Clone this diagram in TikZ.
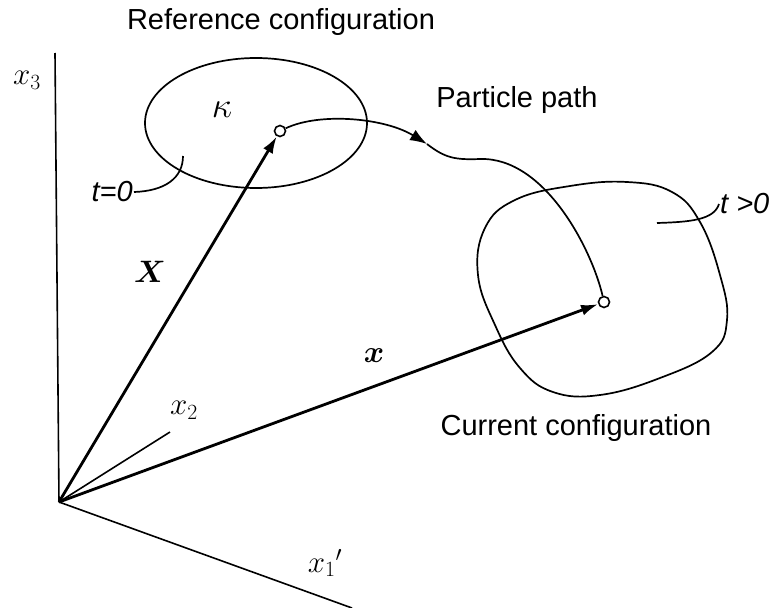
\RequirePackage{fix-cm}
\documentclass[tikz,border=0pt]{standalone}
\usepackage[no-math]{fontspec}
\setmainfont{Liberation Sans}
\usepackage{amsmath}
\usepackage{bm}
\usetikzlibrary{arrows.meta, positioning}

\begin{document}
\begin{tikzpicture}[x=1pt,y=-1pt,
  lbl/.style={font=\fontsize{29}{34}\selectfont,inner sep=1pt},
  mlbl/.style={font=\fontsize{31}{36}\selectfont,inner sep=1pt},
  axis/.style={line width=1.6pt},
  vec/.style={line width=2.8pt,-{Latex[length=17pt,width=11pt]}},
  curve/.style={line width=1.7pt},
  dot/.style={circle,draw,line width=1.6pt,fill=white,inner sep=0pt,minimum size=11pt}]
\useasboundingbox (0,0) rectangle (772,608);
% axes
\coordinate (o) at (59,502);
\coordinate (a3) at (55,53);
\coordinate (a2) at (170,432);
\coordinate (a1) at (352,608);
\draw[axis] (o) -- (a3);
\draw[axis] (o) -- (a2);
\draw[axis] (o) -- (a1);
\node[mlbl] (l3) at (27,80) {$x_3$};
\node[mlbl] (l2) at (184,410) {$x_2$};
\node[mlbl] (l1) at (325,563) {$x_1{}'$};
% reference configuration
\draw[curve] (256,123) ellipse [x radius=111, y radius=65];
\node[mlbl,font=\fontsize{36}{40}\selectfont] (k) at (222,110) {$\kappa$};
\node[lbl,anchor=east] (t0) at (134,192) {\itshape t=0};
\draw[curve] (t0.east) .. controls (165,191) and (183,178) .. (183,156);
% current configuration
\draw[curve] plot[smooth cycle, tension=0.7] coordinates {(485,228) (515,200) (570,186) (627,182) (672,192) (700,222) (720,275) (727,320) (712,352) (660,378) (600,395) (553,392) (520,368) (495,325) (478,275)};
\coordinate (lead) at (657,223);
\node[lbl,anchor=west] (t1) at (719,204) {\itshape t >0};
\draw[curve] (lead) .. controls (690,222) and (714,220) .. (t1.west);
% particle positions
\node[dot] (c0) at (280,131) {};
\node[dot] (c1) at (604,302) {};
\draw[vec] (o) -- (c0);
\draw[vec] (o) -- (c1);
\node[mlbl] (lX) at (150,272) {$\bm{X}$};
\node[mlbl] (lx) at (374,356) {$\bm{x}$};
% particle path
\coordinate (pa) at (427,144);
\draw[curve,-{Latex[length=17pt,width=12pt]}] (c0) .. controls (320,112) and (385,118) .. (pa);
\draw[curve] (pa) .. controls (445,158) and (455,160) .. (480,159) .. controls (545,157) and (592,250) .. (c1);
% titles
\node[lbl] (ref) at (281,22) {Reference configuration};
\node[lbl] (pp) at (517,100) {Particle path};
\node[lbl] (cur) at (576,428) {Current configuration};
\end{tikzpicture}
\end{document}
